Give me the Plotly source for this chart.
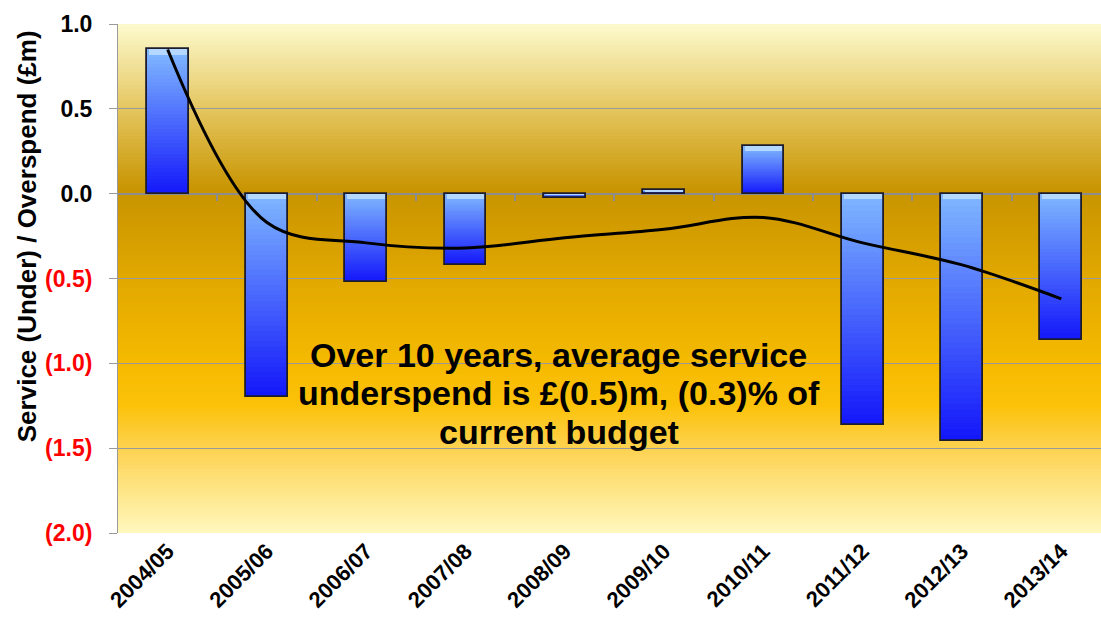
import plotly.graph_objects as go

categories = ["2004/05", "2005/06", "2006/07", "2007/08", "2008/09",
              "2009/10", "2010/11", "2011/12", "2012/13", "2013/14"]
variance = [0.85, -1.20, -0.52, -0.42, -0.025, 0.02, 0.28, -1.365, -1.46, -0.865]
trend = [0.85, -0.17, -0.29, -0.32, -0.26, -0.21, -0.14, -0.29, -0.42, -0.62]
ytick_vals = [1.0, 0.5, 0.0, -0.5, -1.0, -1.5, -2.0]
ytick_text = ["1.0", "0.5", "0.0", "(0.5)", "(1.0)", "(1.5)", "(2.0)"]
note_lines = ["Over 10 years, average service",
              "underspend is £(0.5)m, (0.3)% of",
              "current budget"]

FONT = "Arial, Liberation Sans, sans-serif"
xs = list(range(len(categories)))


def lerp(c1, c2, t):
    return tuple(round(a + (b - a) * t) for a, b in zip(c1, c2))


def hexc(c):
    return "#%02x%02x%02x" % c


def grad(stops, v):
    for (v1, c1), (v2, c2) in zip(stops, stops[1:]):
        if v1 >= v >= v2:
            t = (v1 - v) / (v1 - v2) if v1 != v2 else 0
            return lerp(c1, c2, t)
    return stops[-1][1]


fig = go.Figure()

# gradient bars: light at top, dark at bottom
LIGHT = (128, 184, 255)
DARK = (18, 22, 250)
N = 40
for k in range(N):
    frac = 1 - k / N
    cols = []
    for v in variance:
        s = k / N if v >= 0 else 1 - k / N - 0.5 / N
        s = min(max(s, 0), 1)
        cols.append(hexc(lerp(LIGHT, DARK, s)))
    fig.add_trace(go.Bar(
        x=xs, y=[v * frac for v in variance], width=0.42,
        marker=dict(color=cols, line=dict(width=0)),
        hoverinfo="skip", showlegend=False))

# bevel highlight at the top edge of each bar
bev = [min(0.03, abs(v) / 4) for v in variance]
fig.add_trace(go.Bar(
    x=xs, y=[-b if v < 0 else b for v, b in zip(variance, bev)],
    base=[0 if v < 0 else v - b for v, b in zip(variance, bev)],
    width=0.38, marker=dict(color="#b4d8ff", line=dict(width=0)),
    hoverinfo="skip", showlegend=False))

# outline
fig.add_trace(go.Bar(
    x=xs, y=variance, width=0.42,
    marker=dict(color="rgba(0,0,0,0)", line=dict(color="#1c1c2c", width=1.8)),
    hoverinfo="skip", showlegend=False))

fig.add_trace(go.Scatter(
    x=xs, y=trend, mode="lines", xaxis="x2",
    line=dict(color="black", width=3, shape="spline", smoothing=1.0),
    hoverinfo="skip", showlegend=False))

# background gradient
bg_stops = [
    (1.0, (253, 250, 206)),
    (0.5, (228, 198, 96)),
    (0.02, (200, 148, 0)),
    (-0.5, (225, 168, 0)),
    (-1.0, (245, 186, 0)),
    (-1.25, (252, 194, 10)),
    (-1.5, (253, 210, 80)),
    (-2.0, (255, 248, 190)),
]
shapes = []
M = 150
for i in range(M):
    y0 = 1.0 - 3.0 * i / M
    y1 = 1.0 - 3.0 * (i + 1) / M
    c = grad(bg_stops, (y0 + y1) / 2)
    shapes.append(dict(type="rect", xref="paper", yref="y", x0=0, x1=1,
                       y0=max(y1 - 0.012, -2.0), y1=y0, fillcolor=hexc(c),
                       line=dict(width=0), layer="below"))

ticktext = [
    t if v >= 0 else "<span style='color:#ff0000'>%s</span>" % t
    for v, t in zip(ytick_vals, ytick_text)
]

annotations = [
    dict(xref="paper", yref="paper", x=-0.0926, y=0.583,
         text="Service (Under) / Overspend (£m)", textangle=-90,
         showarrow=False, xanchor="center", yanchor="middle",
         font=dict(size=26, family=FONT, weight="bold", color="black")),
]
for line, yv in zip(note_lines, [-0.95, -1.175, -1.405]):
    annotations.append(dict(
        xref="paper", yref="y", x=0.4486, y=yv, text=line,
        showarrow=False, xanchor="center", yanchor="middle",
        font=dict(size=34, family=FONT, weight="bold", color="black")))

fig.update_layout(
    width=1101, height=627,
    margin=dict(l=118, r=0, t=24, b=94),
    paper_bgcolor="white", plot_bgcolor="rgba(0,0,0,0)",
    barmode="overlay", bargap=0,
    shapes=shapes,
    font=dict(family=FONT, color="black"),
    xaxis=dict(range=[-0.5, 9.4], tickmode="array", tickvals=xs,
               ticktext=categories, tickangle=-45, showgrid=False,
               zeroline=False, showline=False, ticks="", automargin=False,
               tickfont=dict(size=22, family=FONT, weight="bold")),
    xaxis2=dict(range=[-0.5, 9.4], overlaying="x", anchor="free",
                position=2 / 3, side="bottom", automargin=False,
                tickmode="array", tickvals=[i + 0.5 for i in xs[:-1]],
                ticks="outside", ticklen=6, tickwidth=1.5, tickcolor="#8c8c8c",
                showticklabels=False, showgrid=False, zeroline=False,
                showline=False),
    yaxis=dict(range=[-2, 1], tickmode="array", tickvals=ytick_vals,
               ticktext=ticktext, showgrid=True, gridcolor="#9a9a9a",
               gridwidth=1, zeroline=True, zerolinecolor="#8c8c8c",
               zerolinewidth=2, showline=True, linecolor="#9a9a9a",
               linewidth=1, ticks="outside", ticklen=8, tickcolor="#9a9a9a",
               ticklabelstandoff=12, automargin=False,
               tickfont=dict(size=23, family=FONT, weight="bold")),
    annotations=annotations,
)

fig.write_html(
    "out.html",
    config={"displayModeBar": False},
    post_script="document.body.style.margin='0';"
                "document.body.style.overflow='hidden';",
)
